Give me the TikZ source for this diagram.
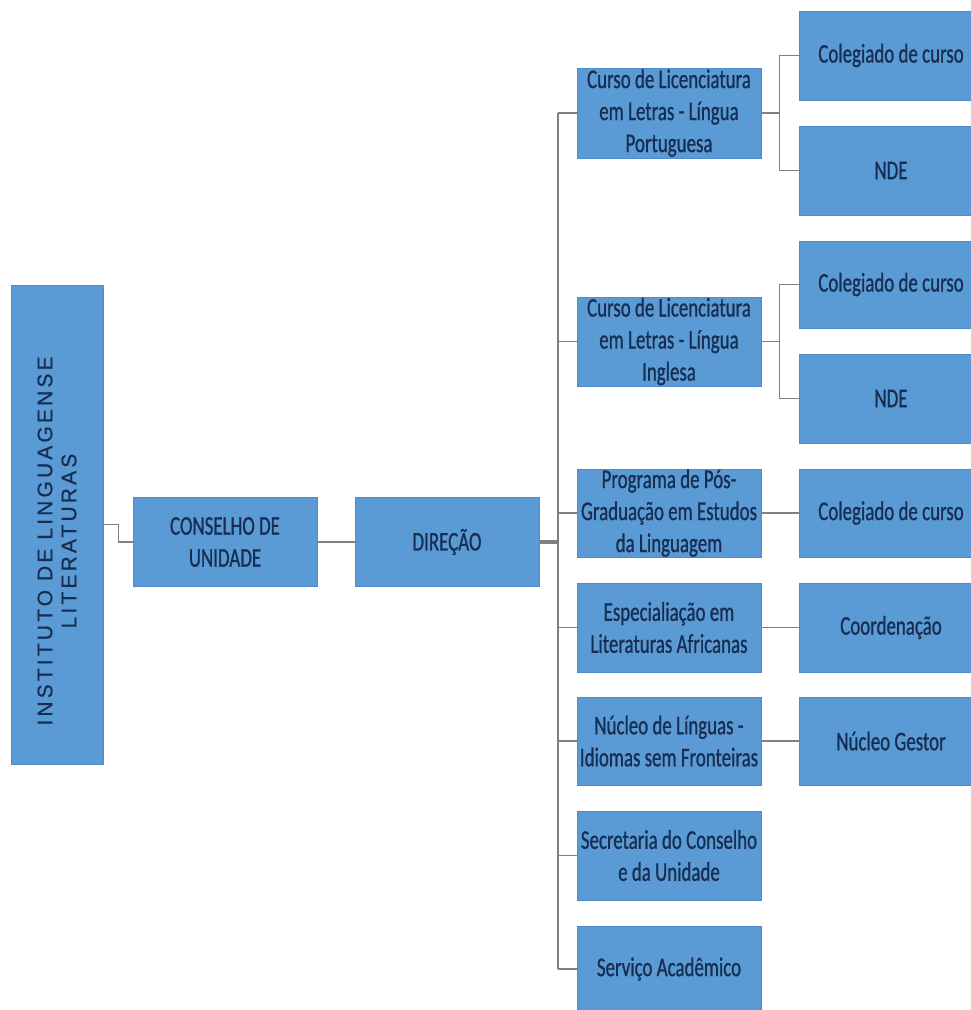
\documentclass[tikz,border=0pt]{standalone}
\usepackage{fontspec}
\setmainfont{Carlito}
\newfontfamily\boxfont[FakeStretch=0.70,FakeBold=0.8]{Carlito}
\newfontfamily\titlefont[LetterSpace=15,FakeBold=0.8]{Liberation Sans}
\definecolor{boxblue}{HTML}{5B9BD5}
\definecolor{boxedge}{HTML}{4F8BC9}
\definecolor{boxtext}{HTML}{172E52}
\definecolor{linegray}{HTML}{808080}
\tikzset{
  orgbox/.style={shape=rectangle,fill=boxblue,draw=boxedge,line width=0.8pt,
    minimum width=184,minimum height=89,inner sep=0pt,align=center,
    text=boxtext,font=\boxfont\fontsize{27}{32}\selectfont},
  conn/.style={draw=linegray,line width=1.5pt},
  heavyconn/.style={draw=linegray,line width=3.5pt}
}
\begin{document}
\begin{tikzpicture}[x=1pt,y=-1pt]
				\useasboundingbox (0,0) rectangle (971,1010);
				\clip (0,0) rectangle (971,1010);

				% left column
				\node[orgbox,minimum width=92,minimum height=479] (inst) at (57,524.5) {};
				\node[rotate=90,align=center,inner sep=0pt,text=boxtext,font=\titlefont\fontsize{21}{24}\selectfont] (insttitle) at (57,541) {INSTITUTO DE LINGUAGENSE\\LITERATURAS};
				\node[orgbox] (cons) at (225,542) {CONSELHO DE\\UNIDADE};
				\node[orgbox] (dir) at (447,542) {DIREÇÃO};

				% middle column
				\node[orgbox,minimum height=90] (cp) at (669,113) {Curso de Licenciatura\\em Letras - Língua\\Portuguesa};
				\node[orgbox] (ci) at (669,341.5) {Curso de Licenciatura\\em Letras - Língua\\Inglesa};
				\node[orgbox,minimum height=88] (pg) at (669,513) {Programa de Pós-\\Graduação em Estudos\\da Linguagem};
				\node[orgbox] (es) at (669,627.5) {Especialiação em\\Literaturas Africanas};
				\node[orgbox,minimum height=88] (nl) at (669,741) {Núcleo de Línguas -\\Idiomas sem Fronteiras};
				\node[orgbox] (sc) at (669,855.5) {Secretaria do Conselho\\e da Unidade};
				\node[orgbox,minimum height=86] (sa) at (669,969) {Serviço Acadêmico};

				% right column
				\node[orgbox] (cg1) at (891,55.5) {Colegiado de curso};
				\node[orgbox] (nde1) at (891,170.5) {NDE};
				\node[orgbox,minimum height=87] (cg2) at (891,284.5) {Colegiado de curso};
				\node[orgbox] (nde2) at (891,398.5) {NDE};
				\node[orgbox,minimum height=88] (cg3) at (891,513) {Colegiado de curso};
				\node[orgbox] (coord) at (891,627.5) {Coordenação};
				\node[orgbox,minimum height=88] (ngest) at (891,741) {Núcleo Gestor};

				\coordinate (bus) at (558,542);

				\draw[conn] (inst.east) -- ++(15,0) |- (cons.west);
				\draw[conn] (cons.east) -- (dir.west);
				\draw[heavyconn] (dir.east) -- (bus);
				\draw[conn] (cp.west -| bus) -- (sa.west -| bus);
				\foreach \n in {cp,ci,pg,es,nl,sc,sa}
					\draw[conn] (\n.west) -- (\n.west -| bus);

				\draw[conn] (cg1.west) -- ++(-19,0) coordinate (forkp) |- (nde1.west);
				\draw[conn,line width=2.5pt] (cp.east) -- (cp.east -| forkp);
				\draw[conn] (cg2.west) -- ++(-19,0) coordinate (forki) |- (nde2.west);
				\draw[conn] (ci.east) -- (ci.east -| forki);
				\draw[conn] (pg.east) -- (cg3.west);
				\draw[conn] (es.east) -- (coord.west);
				\draw[conn] (nl.east) -- (ngest.west);
			\end{tikzpicture}
\end{document}
